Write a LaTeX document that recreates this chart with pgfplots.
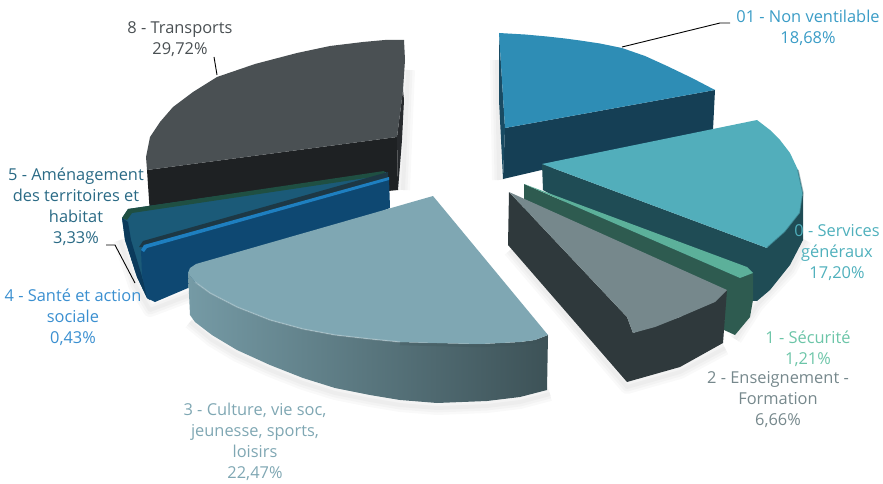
\documentclass[border=0pt]{standalone}
\usepackage{pgfplots}
\usepackage{fontspec}
\setmainfont{Open Sans}
\pgfplotsset{compat=1.18}
\definecolor{t01}{HTML}{2E8DB5}\definecolor{s01}{HTML}{153F55}
\definecolor{t0}{HTML}{52AEBB}\definecolor{s0}{HTML}{1F4C55}
\definecolor{t1}{HTML}{5CB09A}\definecolor{s1}{HTML}{2E5B50}
\definecolor{t2}{HTML}{76888C}\definecolor{s2}{HTML}{2F393C}
\definecolor{t3}{HTML}{7FA7B3}\definecolor{s3}{HTML}{3D5257}
\definecolor{t4}{HTML}{1E7FC0}\definecolor{s4}{HTML}{0E4872}
\definecolor{t5}{HTML}{1F4F42}\definecolor{s5}{HTML}{1B5A78}
\definecolor{t8}{HTML}{4A5053}\definecolor{s8}{HTML}{1E2123}
\definecolor{l01}{HTML}{3A9CC6}\definecolor{l0}{HTML}{4FB0BC}
\definecolor{l1}{HTML}{6CC5A8}\definecolor{l2}{HTML}{76888C}
\definecolor{l3}{HTML}{7FA7B3}\definecolor{l4}{HTML}{3A8FD0}
\definecolor{l5}{HTML}{2A6A85}\definecolor{l8}{HTML}{4A5053}
\newcommand{\lab}{\fontsize{16.4}{21}\selectfont}
\tikzset{shd/.style={draw=black,line width=#1,draw opacity=0.025,fill=none},
  lbl/.style={inner sep=0pt,align=center,font=\lab}}
\newcommand{\shadows}[1]{%
\addplot[shd=#1] coordinates {(190,322)(212,340)(237,355)(270,370)(303,383)(335,393)(370,400)(400,405)(437,408)(487,406)(520,402)(550,394)};
\addplot[shd=#1] coordinates {(510,250)(627,387)(680,372)(725,348)};
\addplot[shd=#1] coordinates {(735,339)(757,305)(790,270)(805,240)};
\addplot[shd=#1] coordinates {(497,60)(499,180)};
\addplot[shd=#1] coordinates {(408,70)(403,190)};
\addplot[shd=#1] coordinates {(120,240)(135,285)(150,310)(190,295)};
}
\begin{document}
\begin{tikzpicture}
\useasboundingbox (0,0) rectangle (883pt,484pt);
\begin{axis}[at={(0,0)},anchor=south west,scale only axis,width=883pt,height=484pt,
  xmin=0,xmax=883,ymin=0,ymax=484,y dir=reverse,hide axis,clip=false,
  every axis plot/.append style={no marks,line join=round}]

% soft shadows
\shadows{14pt}
\shadows{9pt}
\shadows{4pt}

% 8 - Transports
\addplot[fill=s8,draw=none] coordinates {(147,170)(397,137)(398,190)(150,215)} -- cycle;
\addplot[fill=s8!80!t8,draw=none] coordinates {(403,90)(404,100)(402,140)(398,190)(397,137)} -- cycle;
\addplot[fill=t8,draw=none] coordinates {(404,40)(385,40)(363,42)(330,46)(297,53)(255,64)(217,77)(193,92)(173,107)(160,122)(150,137)(146,157)(147,170)(397,137)(403,90)(405,60)} -- cycle;

% 5 - Amenagement
\addplot[fill=s5,draw=none] coordinates {(122,218)(128,209)(386,172)(388,190)(147,298)(137,277)(125,240)} -- cycle;
\addplot[fill=s4!80!black,draw=none] coordinates {(122,218)(128,222)(131,240)(143,280)(150,300)(147,298)(137,277)(125,240)} -- cycle;
\addplot[fill=t5,draw=none] coordinates {(122,218)(128,209)(384,171)(386,175)(132,213)(127,220)} -- cycle;

% 4 - Sante
\addplot[fill=s8!60!s5,draw=none] coordinates {(139,247)(143,241)(388,172)(388,178)(145,247)} -- cycle;
\addplot[fill=s4,draw=none] coordinates {(141,250)(144,245)(389,178)(390,208)(188,288)(155,302)(147,298)(142,275)} -- cycle;
\addplot[fill=t4,draw=none] coordinates {(141,250)(144,245)(389,177)(389,180)(147,248)(144,252)} -- cycle;

% 3 - Culture
\addplot[left color=t3!85!s3,middle color=s3!50!t3,right color=s3,draw=none] coordinates {(188,273)(195,282)(210,293)(237,307)(270,320)(303,329)(335,335)(370,339)(400,342)(437,343)(480,344)(520,342)(535,340)(548,335)(547,390)(520,397)(487,401)(437,403)(400,400)(370,395)(335,388)(303,378)(270,365)(237,350)(212,335)(195,322)(190,315)} -- cycle;
\addplot[fill=t3,draw=none] coordinates {(433,196)(548,335)(535,340)(520,342)(480,344)(437,343)(400,342)(370,339)(335,335)(303,329)(270,320)(237,307)(210,293)(195,282)(188,273)(190,268)(196,264)} -- cycle;
\addplot[draw=white,line width=1.5pt,draw opacity=0.2] coordinates {(195,282)(210,293)(237,307)(270,320)(303,329)(335,335)(370,339)(400,342)};
\addplot[draw=s3,line width=2.5pt,draw opacity=0.25] coordinates {(400,344)(437,345)(480,346)(520,344)(535,342)(548,337)};

% 01 - Non ventilable
\addplot[fill=s01,draw=none] coordinates {(505,128)(715,90)(713,130)(503,179)} -- cycle;
\addplot[fill=s01!85!t01,draw=none] coordinates {(499,33)(505,128)(503,179)(499,100)} -- cycle;
\addplot[fill=t01,draw=none] coordinates {(499,33)(525,34.5)(547,36.5)(565,38.5)(580,40.5)(600,43.5)(622,48)(645,56)(667,66)(692,78)(715,90)(505,128)} -- cycle;

% 0 - Services generaux
\addplot[fill=s0,draw=none] coordinates {(542,164)(767,248)(803,195)(803,240)(790,265)(770,290)(757,301)(740,300)(543,190)} -- cycle;
\addplot[fill=t0,draw=none] coordinates {(542,164)(757,120)(770,130)(780,140)(790,153)(798,170)(803,193)(800,213)(785,232)(767,248)} -- cycle;
\addplot[draw=s0,line width=1.5pt,draw opacity=0.4] coordinates {(798,170)(803,193)(800,213)(785,232)(767,248)};

% 1 - Securite
\addplot[fill=s1,draw=none] coordinates {(524,184)(740,278)(753,273)(753,300)(750,317)(735,335)(724,330)(725,290)(524,212)} -- cycle;
\addplot[fill=t1,draw=none] coordinates {(524,184)(747,267)(753,273)(740,278)} -- cycle;

% 2 - Enseignement
\addplot[fill=s2,draw=none] coordinates {(509,192)(627,317)(633,333)(680,317)(727,290)(723,343)(680,367)(627,382)(508,245)} -- cycle;
\addplot[fill=t2,draw=none] coordinates {(509,192)(727,290)(715,302)(680,317)(655,327)(633,333)(627,317)} -- cycle;

% leaders
\addplot[black,line width=0.9pt] coordinates {(622,47)(720,23)(730,23)};
\addplot[black,line width=0.9pt] coordinates {(214,57)(217,75)};
\addplot[black,line width=0.9pt] coordinates {(106,245)(115,245)(135,283)};

% labels
\node[lbl,text=l01] at (axis cs:808,28) {01 - Non ventilable\\18,68\%};
\node[lbl,text=l0] at (axis cs:837,253) {0 - Services\\généraux\\17,20\%};
\node[lbl,text=l1] at (axis cs:808,349) {1 - Sécurité\\1,21\%};
\node[lbl,text=l2] at (axis cs:778,400) {2 - Enseignement -\\Formation\\6,66\%};
\node[lbl,text=l3] at (axis cs:255,442) {3 - Culture, vie soc,\\jeunesse, sports,\\loisirs\\22,47\%};
\node[lbl,text=l4] at (axis cs:73,317) {4 - Santé et action\\sociale\\0,43\%};
\node[lbl,text=l5] at (axis cs:76,207) {5 - Aménagement\\des territoires et\\habitat\\3,33\%};
\node[lbl,text=l8] at (axis cs:180,39) {8 - Transports\\29,72\%};
\end{axis}
\end{tikzpicture}
\end{document}
